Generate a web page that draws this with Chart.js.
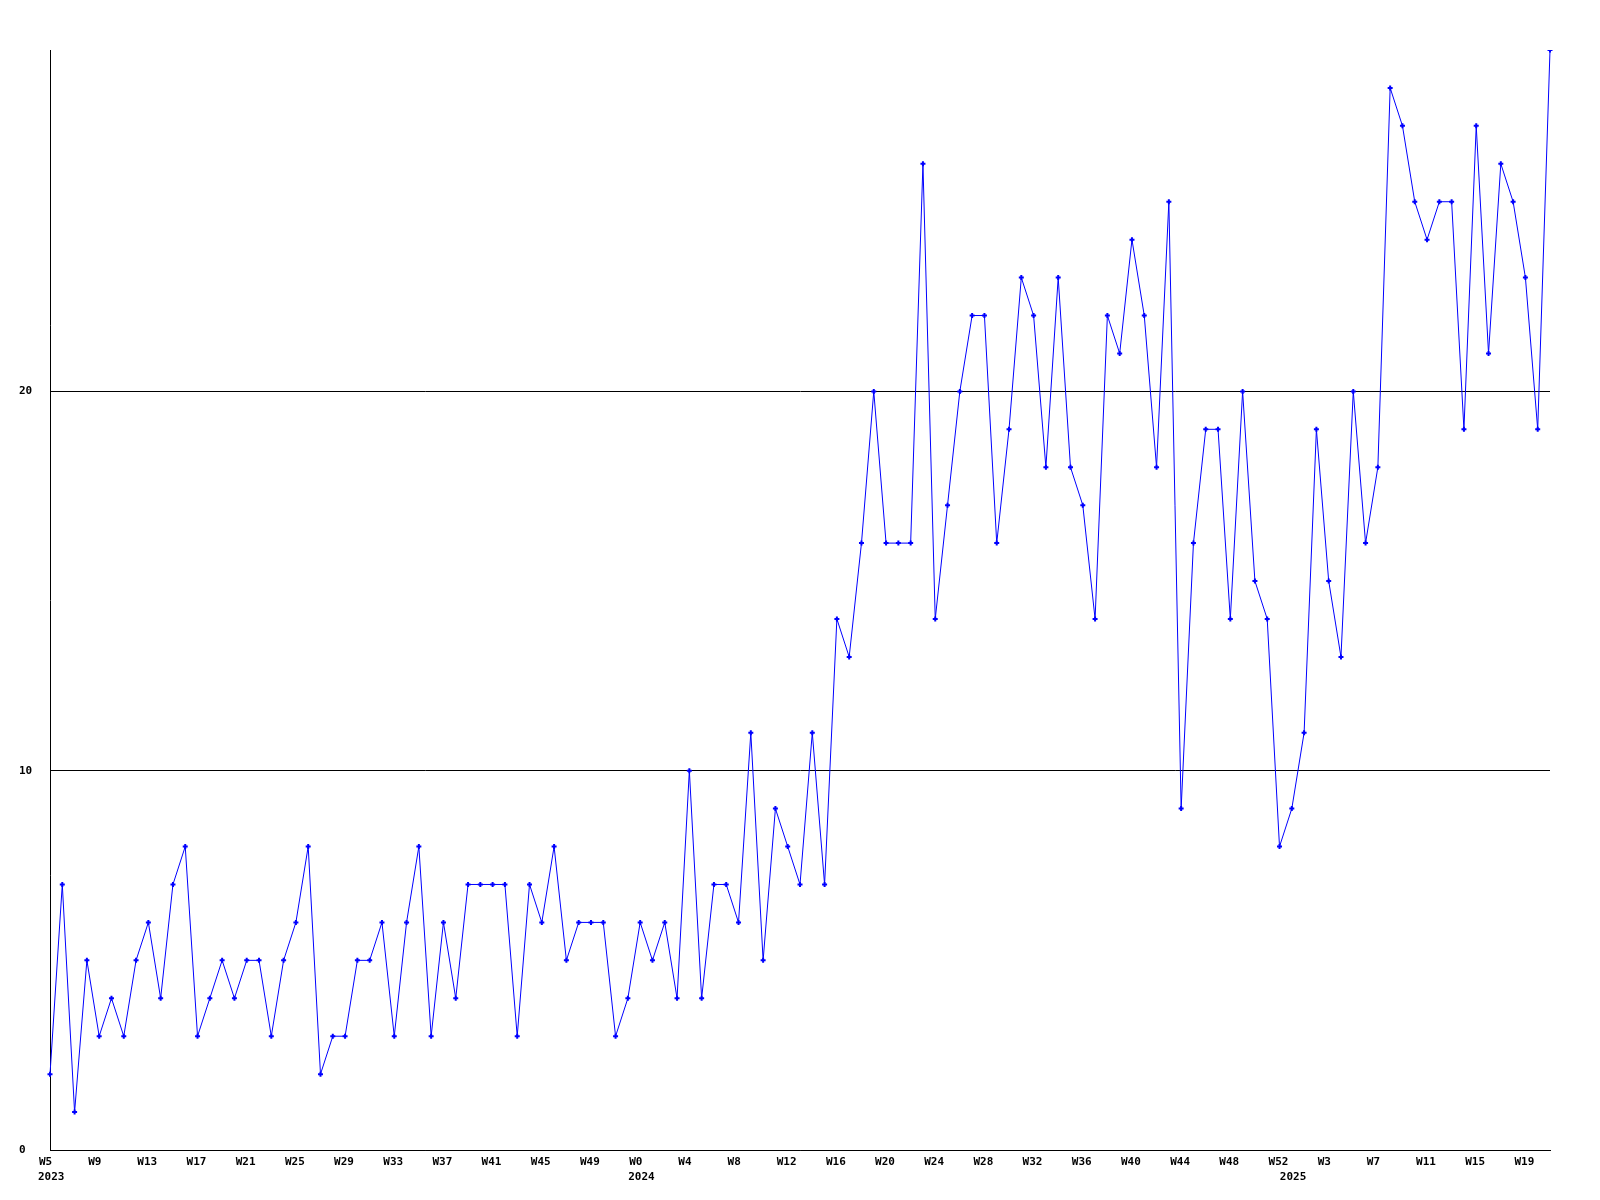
<!DOCTYPE html>
<html>
<head>
<meta charset="utf-8">
<script src="https://cdn.jsdelivr.net/npm/chart.js@4/dist/chart.umd.min.js"></script>
<style>
  html, body { margin: 0; padding: 0; background: #fff; }
  #wrap { width: 1600px; height: 1200px; }
</style>
</head>
<body>
<div id="wrap"><canvas id="chart" width="1600" height="1200"></canvas></div>
<script>
/* weekly counts, W5 2023 .. W21 2025 */
const counts = [
  2, 7, 1, 5, 3, 4, 3, 5, 6, 4, 7, 8, 3, 4, 5, 4, 5, 5, 3, 5, 6, 8,
  2, 3, 3, 5, 5, 6, 3, 6, 8, 3, 6, 4, 7, 7, 7, 7, 3, 7, 6, 8, 5, 6, 6,
  6, 3, 4, 6, 5, 6, 4, 10, 4, 7, 7, 6, 11, 5, 9, 8, 7, 11, 7, 14, 13,
  16, 20, 16, 16, 16, 26, 14, 17, 20, 22, 22, 16, 19, 23, 22, 18, 23, 18, 17, 14, 22,
  21, 24, 22, 18, 25, 9, 16, 19, 19, 14, 20, 15, 14, 8, 9, 11, 19, 15, 13, 20,
  16, 18, 28, 27, 25, 24, 25, 25, 19, 27, 21, 26, 25, 23, 19, 29,
];

// one week label every 4 points
const weekTicks = [
  'W5', 'W9', 'W13', 'W17', 'W21', 'W25', 'W29', 'W33', 'W37', 'W41', 'W45', 'W49',
  'W0', 'W4', 'W8', 'W12', 'W16', 'W20', 'W24', 'W28', 'W32', 'W36', 'W40', 'W44', 'W48', 'W52',
  'W3', 'W7', 'W11', 'W15', 'W19',
];
const TICK_EVERY = 4;

// year labels and the point index where each one sits
const years = ['2023', '2024', '2025'];
const yearAt = [0, 48, 101];

const yTicks = [0, 10, 20];
const yMax = 29;

const FONT = { family: '"DejaVu Sans Mono", monospace', size: 11, weight: 'bold', lineHeight: 1.35 };
const BLUE = '#0000ff';

const labels = counts.map((_, i) => i);

new Chart(document.getElementById('chart'), {
  type: 'line',
  data: {
    labels,
    datasets: [{
      data: counts,
      borderColor: BLUE, borderWidth: 1, tension: 0,
      pointStyle: 'cross', pointRadius: 2.5, pointBorderWidth: 2,
      pointBorderColor: BLUE, pointBackgroundColor: BLUE,
      clip: { left: false, top: 0, right: false, bottom: false },
    }]
  },
  options: {
    responsive: false, animation: false,
    layout: { padding: { top: 50, right: 50, bottom: 0, left: 19 } },
    plugins: { legend: { display: false }, tooltip: { enabled: false } },
    scales: {
      x: {
        offset: false, weight: 0,
        grid: { display: false, drawTicks: false },
        border: { color: '#000', width: 1 },
        ticks: {
          autoSkip: false, maxRotation: 0, padding: 5, color: '#000', font: FONT,
          align: 'start', labelOffset: -11,
          callback: (v, i) => (i % TICK_EVERY ? '' : weekTicks[i / TICK_EVERY]),
        },
        afterFit: s => { s.height = 15; },
      },
      years: {
        type: 'category', position: 'bottom', offset: false, weight: 1,
        grid: { display: false, drawTicks: false },
        border: { display: false },
        ticks: {
          autoSkip: false, maxRotation: 0, padding: 5, color: '#000', font: FONT,
          align: 'start', labelOffset: -12,
          callback: (v, i) => { const k = yearAt.indexOf(i); return k < 0 ? '' : years[k]; },
        },
        afterFit: s => { s.height = 35; },
      },
      y: {
        min: 0, max: yMax,
        grid: { color: '#000', lineWidth: 1, drawTicks: false },
        border: { color: '#000', width: 1 },
        ticks: { color: '#000', font: FONT, crossAlign: 'far', padding: 0 },
        afterBuildTicks: s => { s.ticks = yTicks.map(v => ({ value: v })); },
        afterFit: s => { s.width = 31; },
      },
    },
  },
});
</script>
</body>
</html>
